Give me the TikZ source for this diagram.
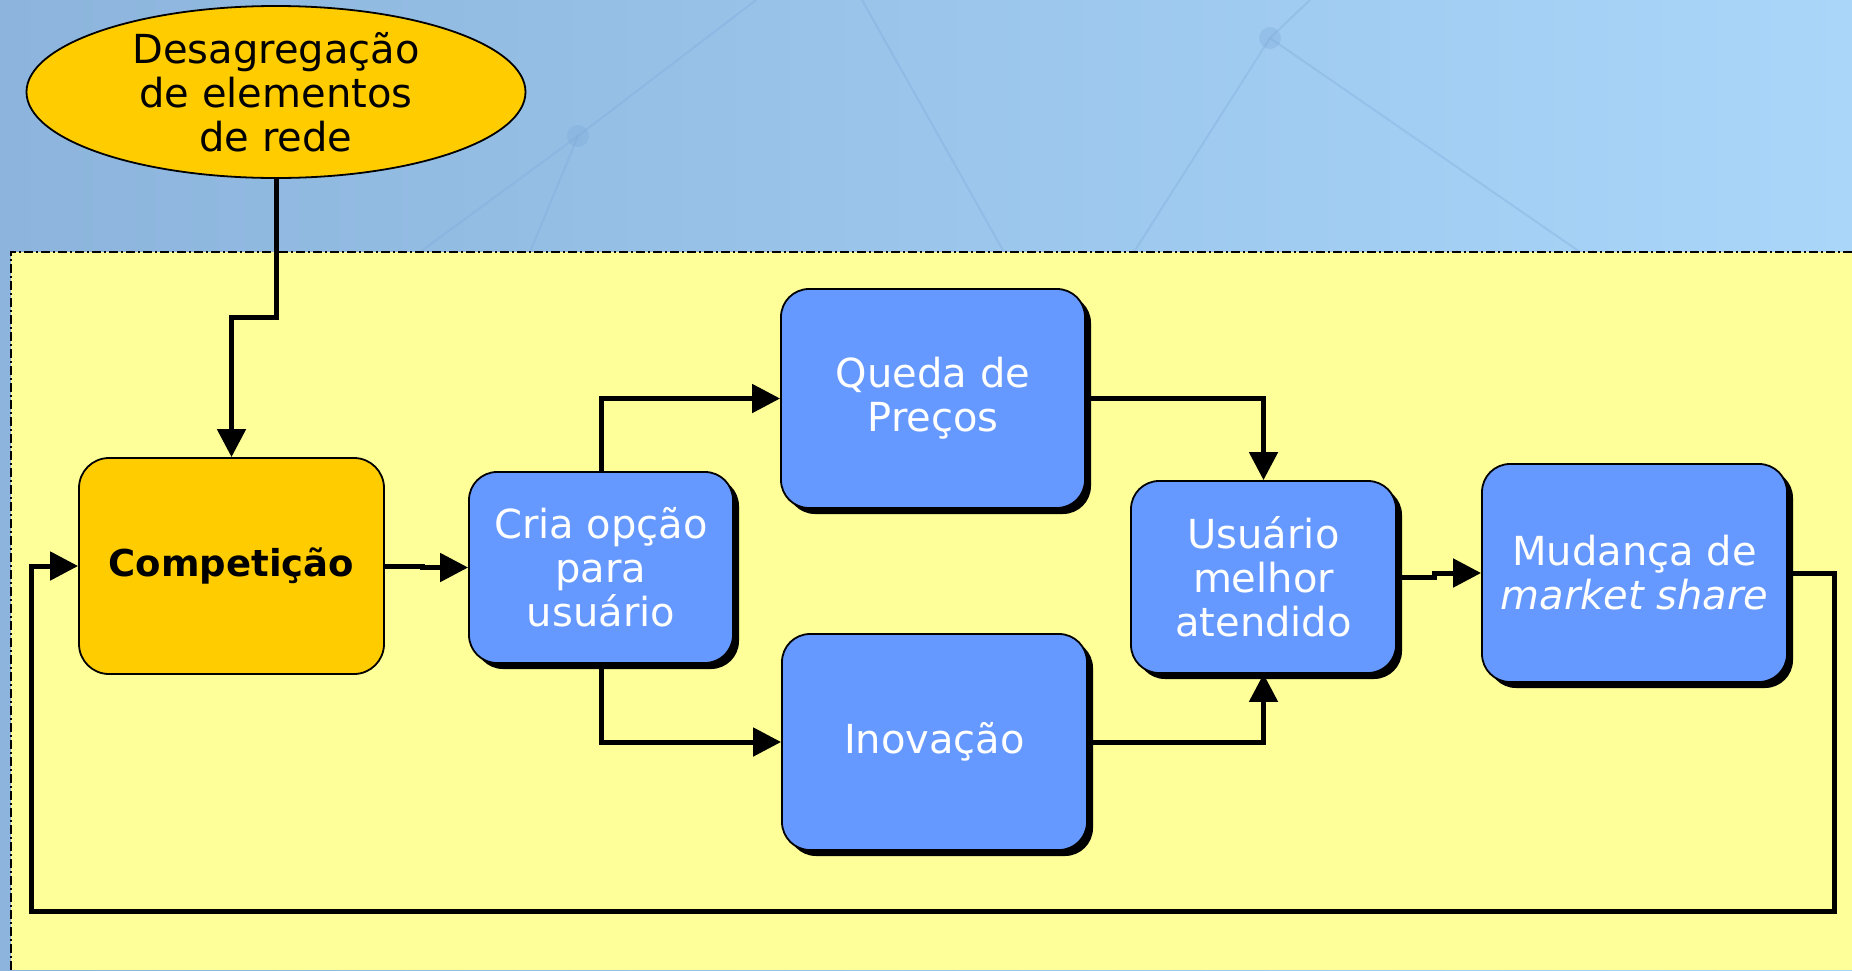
\documentclass[tikz,border=0pt]{standalone}
\usepackage{fontspec}
\setmainfont{DejaVu Sans}
\usetikzlibrary{arrows.meta,shapes.geometric,shadows}
\definecolor{bgL}{RGB}{140,180,220}
\definecolor{bgR}{RGB}{170,214,250}
\definecolor{netline}{RGB}{125,170,218}
\definecolor{areaY}{RGB}{255,255,153}
\definecolor{orangeB}{RGB}{255,204,0}
\definecolor{blueB}{RGB}{102,153,255}
\tikzset{
  txt/.style={font=\fontsize{40}{44}\selectfont, align=center, inner sep=0pt},
  orangebox/.style={txt, draw=black, line width=1.8pt, fill=orangeB, rounded corners=30pt, text=black},
  bluebox/.style={txt, draw=black, line width=1.8pt, fill=blueB, rounded corners=28pt, text=white,
    drop shadow={shadow xshift=6pt, shadow yshift=-6pt, opacity=1, fill=black}},
  link/.style={line width=5pt, -{Triangle[length=28pt,width=28pt]}},
}
\begin{document}
\begin{tikzpicture}[x=1pt,y=-1pt]
\useasboundingbox (0,0) rectangle (1852,970);
% background
\shade[left color=bgL, right color=bgR] (0,0) rectangle (1852,970);
\begin{scope}[netline, line width=2pt, opacity=0.35]
  \draw (530,252) -- (578,136) -- (756,0);
  \draw (578,136) -- (420,252);
  \draw (862,0) -- (1004,252);
  \draw (1270,38) -- (1134,252);
  \draw (1270,38) -- (1580,252);
  \draw (1270,38) -- (1310,0);
  \fill (578,136) circle (11);
  \fill (1270,38) circle (11);
\end{scope}
% yellow area
\fill[areaY] (11,252) rectangle (1852,970);
\draw[line width=2pt, dash pattern=on 9pt off 3pt on 2pt off 3pt] (11,970) -- (11,252) -- (1852,252);
% nodes
\node[txt, shape=ellipse, draw=black, line width=1.8pt, fill=orangeB, minimum width=499pt, minimum height=172pt] (ell) at (276,92) {Desagregação\\de elementos\\de rede};
\node[orangebox, minimum width=305pt, minimum height=216pt, font=\fontsize{37}{44}\selectfont\bfseries] (comp) at (231.5,566) {Competição};
\node[bluebox, minimum width=264pt, minimum height=191pt] (cria) at (601,567.5) {Cria opção\\para\\usuário};
\node[bluebox, minimum width=304pt, minimum height=219pt] (queda) at (933,398.5) {Queda de\\Preços};
\node[bluebox, minimum width=305pt, minimum height=216pt] (inov) at (934.5,742) {Inovação};
\node[bluebox, minimum width=265pt, minimum height=192pt] (usu) at (1263.5,577) {Usuário\\melhor\\atendido};
\node[bluebox, minimum width=305pt, minimum height=218pt] (mud) at (1634.5,573) {Mudança de\\\itshape market share};
\coordinate (bend) at (276,317);
\coordinate (fbR) at (1834,911);
\coordinate (fbL) at (31,911);
% connectors
\draw[link] (ell.south) -- (bend) -| (comp.north);
\draw[link] (comp.east) -- ++(38,0) |- (cria.west);
\draw[link] (cria.north) |- (queda.west);
\draw[link] (cria.south) |- (inov.west);
\draw[link] (queda.east) -| (usu.north);
\draw[link] (inov.east) -| (usu.south);
\draw[link] (usu.east) -- ++(38,0) |- (mud.west);
\draw[link] (mud.east) -| (fbR) -- (fbL) |- (comp.west);
\end{tikzpicture}
\end{document}
